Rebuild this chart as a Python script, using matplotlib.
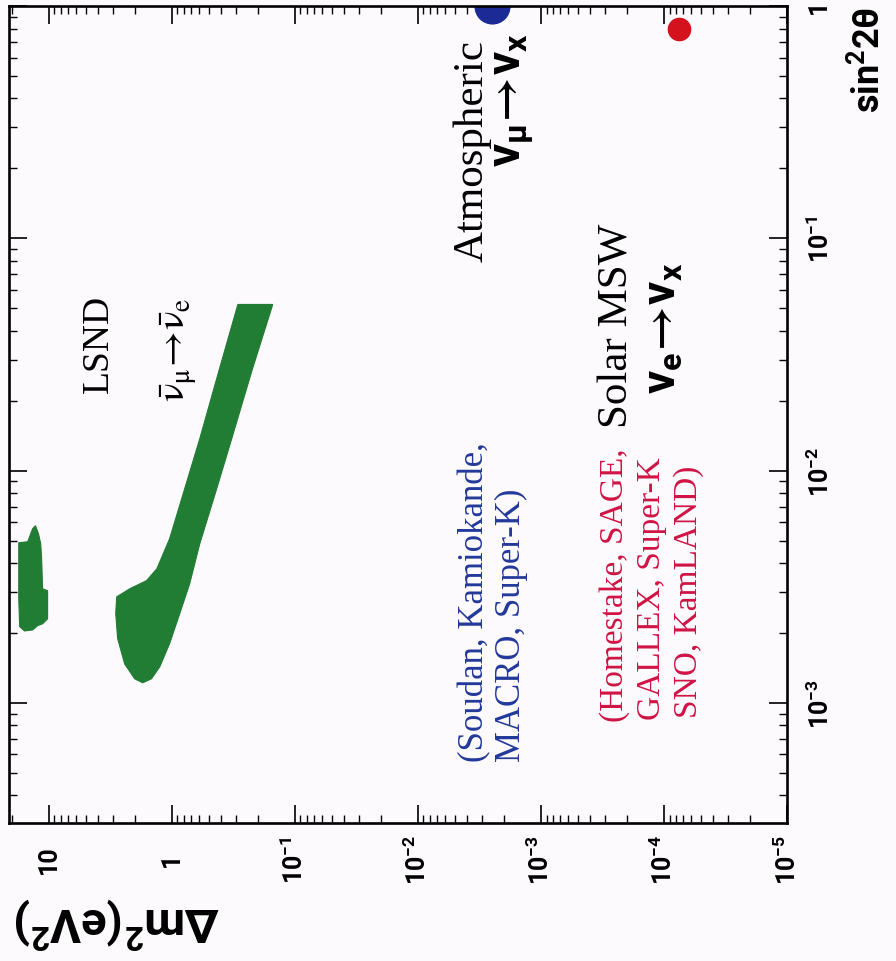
import numpy as np
import matplotlib
matplotlib.use("Agg")
import matplotlib.pyplot as plt
from matplotlib.ticker import FixedLocator, LogLocator, NullFormatter, FuncFormatter

# ---- data -------------------------------------------------------------
# LSND allowed band, traced as a closed boundary (Δm² [eV²], sin²2θ)
lsnd_dm2 = [0.290, 0.415, 0.591, 0.784, 1.04, 1.32, 1.60, 2.19, 2.80, 2.85,
            2.75, 2.41, 2.00, 1.72, 1.46, 1.25, 1.04, 0.861, 0.714, 0.591,
            0.438, 0.325, 0.224, 0.151]
lsnd_sin2 = [0.0519, 0.0267, 0.01374, 0.00836, 0.00509, 0.00378, 0.00336,
             0.00310, 0.00286, 0.00242, 0.00189, 0.00147, 0.00127, 0.00122,
             0.00127, 0.00143, 0.00180, 0.00242, 0.00326, 0.00485, 0.00812,
             0.01374, 0.0267, 0.0519]

# high-Δm² LSND island
island_dm2 = [17.5, 14.8, 13.5, 12.8, 12.1, 11.6, 11.4, 11.2, 10.2, 10.2,
              11.2, 12.3, 13.5, 15.7, 17.2, 17.5]
island_sin2 = [0.00489, 0.00494, 0.00562, 0.00579, 0.00535, 0.00485, 0.00417,
               0.00310, 0.00304, 0.00230, 0.00219, 0.00215, 0.00206, 0.00204,
               0.00213, 0.00281]

# best-fit points
atm_dm2, atm_sin2 = 2.5e-3, 1.0
sol_dm2, sol_sin2 = 7.5e-5, 0.80

dm2_ticks = [10, 1, 1e-1, 1e-2, 1e-3, 1e-4, 1e-5]
sin2_ticks = [1e-3, 1e-2, 1e-1, 1]
dm2_range = (21, 1e-5)
sin2_range = (3.04e-4, 1)

# ---- style ------------------------------------------------------------
GREEN = "#217c34"
BLUE_DOT = "#1b2a95"
RED_DOT = "#d3121d"
BLUE_TXT = "#23399a"
RED_TXT = "#cf1445"
BG = "#fdfafd"

plt.rcParams["mathtext.fontset"] = "custom"
plt.rcParams["mathtext.rm"] = "Roboto:bold"
plt.rcParams["mathtext.it"] = "Roboto:bold"
plt.rcParams["mathtext.bf"] = "Roboto:bold"
plt.rcParams["mathtext.sf"] = "Roboto:bold"
plt.rcParams["mathtext.default"] = "bf"
plt.rcParams["mathtext.fallback"] = "stixsans"

W, H = 896, 962


def at(x, y):
    """canvas pixel offset -> figure fraction"""
    return x / W, 1 - y / H


fig = plt.figure(figsize=(W / 100, H / 100), dpi=100, facecolor=BG)
ax = fig.add_axes([9 / W, 1 - 824 / H, (787 - 9) / W, (824 - 7) / H])
ax.set_facecolor(BG)

# Δm² runs along the horizontal axis (decreasing to the right),
# sin²2θ along the vertical axis.
ax.set_xscale("log")
ax.set_yscale("log")
ax.set_xlim(*dm2_range)
ax.set_ylim(*sin2_range)

ax.fill(lsnd_dm2, lsnd_sin2, color=GREEN, lw=0.8, ec=GREEN)
ax.fill(island_dm2, island_sin2, color=GREEN, lw=0.8, ec=GREEN)
ax.plot([atm_dm2], [atm_sin2], "o", ms=25, color=BLUE_DOT, mec=BLUE_DOT, clip_on=True)
ax.plot([sol_dm2], [sol_sin2], "o", ms=16, color=RED_DOT, mec=RED_DOT, clip_on=True)

# ---- axes -------------------------------------------------------------
for s in ax.spines.values():
    s.set_linewidth(1.9)


def pow_fmt(v, _):
    if v >= 1:
        return f"{v:.0f}"
    return r"$10^{%d}$" % round(np.log10(v))


ax.xaxis.set_major_locator(FixedLocator(dm2_ticks))
ax.xaxis.set_minor_locator(LogLocator(base=10, subs=np.arange(2, 10), numticks=30))
ax.xaxis.set_minor_formatter(NullFormatter())
ax.xaxis.set_major_formatter(FuncFormatter(pow_fmt))

ax.yaxis.set_major_locator(FixedLocator(sin2_ticks))
ax.yaxis.set_minor_locator(LogLocator(base=10, subs=np.arange(2, 10), numticks=30))
ax.yaxis.set_minor_formatter(NullFormatter())
ax.yaxis.set_major_formatter(FuncFormatter(pow_fmt))

ax.tick_params(which="both", direction="in", top=True, bottom=True,
               left=True, right=True, labelleft=False, labelright=True)
ax.tick_params(which="major", length=13, width=1.2)
ax.tick_params(which="minor", length=6, width=1.0)
ax.tick_params(axis="x", which="major", labelrotation=90, pad=26, labelsize=18)
ax.tick_params(axis="y", which="major", labelrotation=90, pad=14, labelsize=18)
for lbl in ax.get_xticklabels() + ax.get_yticklabels():
    lbl.set_verticalalignment("center")
    lbl.set_fontfamily("Roboto")
    lbl.set_fontweight("bold")

# axis titles
fig.text(*at(117, 922), r"$\Delta m^2 (eV^2)$", rotation=180, ha="center",
         va="center", fontsize=34)
fig.text(*at(867, 60), r"$sin^2 2\theta$", rotation=90, ha="center",
         va="center", fontsize=26)

# ---- annotations --------------------------------------------------------
serif = dict(family="Liberation Serif", rotation=90, rotation_mode="anchor",
             ha="left", va="baseline")

fig.text(*at(108, 393), "LSND", fontsize=27, **serif)
fig.text(*at(186, 402), r"$\mathrm{\bar{\nu}_{\mu}\!\rightarrow\!\bar{\nu}_{e}}$",
         fontsize=28, math_fontfamily="stix", **serif)

fig.text(*at(483, 762), "(Soudan, Kamiokande,", fontsize=25, color=BLUE_TXT, **serif)
fig.text(*at(520, 762), "MACRO, Super-K)", fontsize=25, color=BLUE_TXT, **serif)
fig.text(*at(483, 262), "Atmospheric", fontsize=31, **serif)
fig.text(*at(520, 167), r"$\nu_{\mu}\!\rightarrow\!\nu_{x}$", fontsize=33, **serif)

fig.text(*at(623, 722), "(Homestake, SAGE,", fontsize=24, color=RED_TXT, **serif)
fig.text(*at(660, 720), "GALLEX, Super-K", fontsize=24, color=RED_TXT, **serif)
fig.text(*at(697, 718), "SNO, KamLAND)", fontsize=24, color=RED_TXT, **serif)
fig.text(*at(627, 428), "Solar MSW", fontsize=31, **serif)
fig.text(*at(675, 394), r"$\nu_{e}\!\rightarrow\!\nu_{x}$", fontsize=33, **serif)

fig.savefig("out.png", dpi=100, facecolor=BG)
